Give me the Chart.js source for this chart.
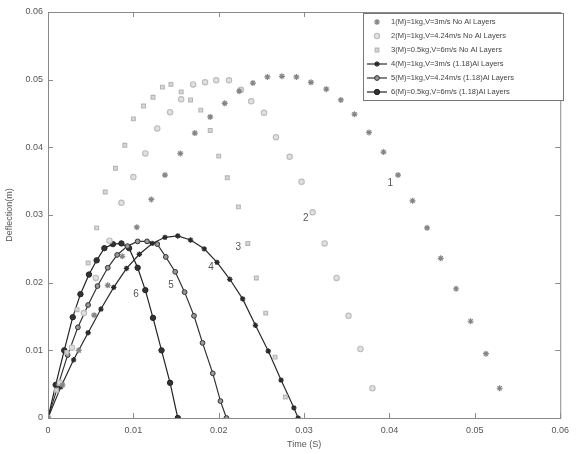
<!DOCTYPE html>
<html>
<head>
<meta charset="utf-8">
<script src="https://cdn.jsdelivr.net/npm/chart.js@4"></script>
<style>
  html, body { margin: 0; padding: 0; background: #fff; }
  #wrap { width: 576px; height: 454px; }
</style>
</head>
<body>
<div id="wrap"><canvas id="chart" width="576" height="454"></canvas></div>
<script>
// series labels (legend)
const seriesNames = [
    '1(M)=1kg,V=3m/s No Al Layers',
    '2(M)=1kg,V=4.24m/s No Al Layers',
    '3(M)=0.5kg,V=6m/s No Al Layers',
    '4(M)=1kg,V=3m/s (1.18)Al Layers',
    '5(M)=1kg,V=4.24m/s (1.18)Al Layers',
    '6(M)=0.5kg,V=6m/s (1.18)Al Layers'
];

// 1 - no Al layers
const time1 = [0, 0.0017, 0.0036, 0.0054, 0.0070, 0.0087, 0.0104, 0.0121, 0.0137, 0.0155, 0.0172, 0.0190, 0.0207, 0.0224, 0.0240, 0.0257, 0.0274, 0.0291, 0.0308, 0.0326, 0.0343, 0.0359, 0.0376, 0.0393, 0.0410, 0.0427, 0.0444, 0.0460, 0.0478, 0.0495, 0.0513, 0.0529];
const defl1 = [0, 0.0049, 0.0100, 0.0152, 0.0196, 0.0239, 0.0282, 0.0323, 0.0359, 0.0391, 0.0421, 0.0445, 0.0465, 0.0483, 0.0495, 0.0504, 0.0505, 0.0504, 0.0496, 0.0486, 0.0470, 0.0449, 0.0422, 0.0393, 0.0359, 0.0321, 0.0281, 0.0236, 0.0191, 0.0143, 0.0095, 0.0044];

// 2 - no Al layers
const time2 = [0, 0.0014, 0.0028, 0.0042, 0.0056, 0.0072, 0.0086, 0.0100, 0.0114, 0.0128, 0.0143, 0.0156, 0.0170, 0.0184, 0.0197, 0.0212, 0.0226, 0.0238, 0.0253, 0.0267, 0.0283, 0.0297, 0.0310, 0.0324, 0.0338, 0.0352, 0.0366, 0.0380];
const defl2 = [0, 0.0052, 0.0104, 0.0155, 0.0207, 0.0262, 0.0318, 0.0356, 0.0391, 0.0428, 0.0452, 0.0471, 0.0493, 0.0496, 0.0499, 0.0499, 0.0485, 0.0468, 0.0451, 0.0415, 0.0386, 0.0349, 0.0304, 0.0258, 0.0207, 0.0151, 0.0102, 0.0044];

// 3 - no Al layers
const time3 = [0, 0.0010, 0.0022, 0.0034, 0.0047, 0.0057, 0.0067, 0.0079, 0.0090, 0.0100, 0.0112, 0.0123, 0.0134, 0.0144, 0.0156, 0.0167, 0.0179, 0.0190, 0.0200, 0.0210, 0.0223, 0.0234, 0.0244, 0.0255, 0.0266, 0.0278];
const defl3 = [0, 0.0041, 0.0097, 0.0160, 0.0229, 0.0281, 0.0334, 0.0369, 0.0403, 0.0442, 0.0461, 0.0474, 0.0489, 0.0493, 0.0482, 0.0470, 0.0455, 0.0425, 0.0387, 0.0355, 0.0312, 0.0258, 0.0207, 0.0155, 0.0090, 0.0031];

// 4 - with Al layers
const time4 = [0, 0.0015, 0.0030, 0.0047, 0.0062, 0.0077, 0.0092, 0.0107, 0.0122, 0.0137, 0.0152, 0.0167, 0.0183, 0.0198, 0.0213, 0.0228, 0.0243, 0.0258, 0.0273, 0.0288, 0.0293];
const defl4 = [0, 0.0046, 0.0086, 0.0126, 0.0161, 0.0193, 0.0221, 0.0242, 0.0258, 0.0267, 0.0269, 0.0263, 0.0250, 0.0230, 0.0205, 0.0176, 0.0137, 0.0099, 0.0056, 0.0015, 0];

// 5 - with Al layers
const time5 = [0, 0.0012, 0.0023, 0.0035, 0.0047, 0.0058, 0.0070, 0.0081, 0.0093, 0.0105, 0.0116, 0.0128, 0.0138, 0.0149, 0.0160, 0.0171, 0.0181, 0.0193, 0.0202, 0.0209];
const defl5 = [0, 0.0049, 0.0093, 0.0134, 0.0167, 0.0195, 0.0222, 0.0241, 0.0254, 0.0261, 0.0261, 0.0257, 0.0238, 0.0216, 0.0186, 0.0151, 0.0111, 0.0066, 0.0025, 0];

// 6 - with Al layers
const time6 = [0, 0.0009, 0.0019, 0.0029, 0.0038, 0.0048, 0.0057, 0.0066, 0.0076, 0.0086, 0.0095, 0.0105, 0.0114, 0.0123, 0.0133, 0.0143, 0.0152];
const defl6 = [0, 0.0049, 0.0100, 0.0149, 0.0183, 0.0212, 0.0233, 0.0251, 0.0257, 0.0258, 0.0251, 0.0222, 0.0189, 0.0148, 0.0100, 0.0052, 0];

// axis ticks
const xTicks = [0, 0.01, 0.02, 0.03, 0.04, 0.05, 0.06];
const yTicks = [0, 0.01, 0.02, 0.03, 0.04, 0.05, 0.06];

// curve number labels and where they sit (data units)
const curveTags = ['1', '2', '3', '4', '5', '6'];
const tagTime = [0.0401, 0.0302, 0.0223, 0.0191, 0.0144, 0.0103];
const tagDefl = [0.0347, 0.0295, 0.0253, 0.0223, 0.0196, 0.0183];

const FONT = '"Liberation Sans", Arial, sans-serif';

function pts(xs, ys) {
    return xs.map((x, i) => ({ x: x, y: ys[i] }));
}

const datasets = [
    { label: seriesNames[0], data: pts(time1, defl1), showLine: false, pointStyle: 'star', pointRadius: 3, borderColor: '#858585', backgroundColor: '#858585', pointBorderWidth: 1.2 },
    { label: seriesNames[1], data: pts(time2, defl2), showLine: false, pointStyle: 'circle', pointRadius: 2.7, borderColor: '#bcbcbc', backgroundColor: '#e0e0e0', pointBorderWidth: 1.1 },
    { label: seriesNames[2], data: pts(time3, defl3), showLine: false, pointStyle: 'rect', pointRadius: 2.7, borderColor: '#b5b5b5', backgroundColor: '#d8d8d8', pointBorderWidth: 1.1 },
    { label: seriesNames[3], data: pts(time4, defl4), showLine: true, borderWidth: 1.2, pointStyle: 'star', pointRadius: 2.7, borderColor: '#2a2a2a', backgroundColor: '#2a2a2a', pointBorderWidth: 1.3 },
    { label: seriesNames[4], data: pts(time5, defl5), showLine: true, borderWidth: 1.2, pointStyle: 'circle', pointRadius: 2.4, borderColor: '#333', backgroundColor: '#999', pointBorderWidth: 1 },
    { label: seriesNames[5], data: pts(time6, defl6), showLine: true, borderWidth: 1.2, pointStyle: 'circle', pointRadius: 2.7, borderColor: '#222', backgroundColor: '#333', pointBorderWidth: 1 }
];

// matlab-like box with inward ticks, curve numbers and legend
const boxPlugin = {
    id: 'box',
    afterDraw(chart) {
        const { ctx, chartArea: a, scales } = chart;
        ctx.save();
        ctx.strokeStyle = '#8a8a8a';
        ctx.lineWidth = 1;
        ctx.strokeRect(a.left + 0.5, a.top + 0.5, a.right - a.left, a.bottom - a.top);
        ctx.beginPath();
        xTicks.forEach(v => {
            const px = Math.round(scales.x.getPixelForValue(v)) + 0.5;
            ctx.moveTo(px, a.bottom); ctx.lineTo(px, a.bottom - 5);
            ctx.moveTo(px, a.top); ctx.lineTo(px, a.top + 5);
        });
        yTicks.forEach(v => {
            const py = Math.round(scales.y.getPixelForValue(v)) + 0.5;
            ctx.moveTo(a.left, py); ctx.lineTo(a.left + 5, py);
            ctx.moveTo(a.right, py); ctx.lineTo(a.right - 5, py);
        });
        ctx.stroke();

        // curve numbers
        ctx.fillStyle = '#555';
        ctx.font = '10px ' + FONT;
        ctx.textAlign = 'center';
        ctx.textBaseline = 'middle';
        curveTags.forEach((t, i) => {
            ctx.fillText(t, scales.x.getPixelForValue(tagTime[i]), scales.y.getPixelForValue(tagDefl[i]));
        });

        // legend box
        const lx = 363, ly = 13, lw = 200, lh = 87;
        ctx.fillStyle = '#fff';
        ctx.fillRect(lx, ly, lw, lh);
        ctx.strokeStyle = '#777';
        ctx.lineWidth = 1;
        ctx.strokeRect(lx + 0.5, ly + 0.5, lw, lh);
        ctx.font = '7.5px ' + FONT;
        ctx.textAlign = 'left';
        chart.data.datasets.forEach((ds, i) => {
            const y = ly + 9 + i * 14;
            const mx = lx + 14;
            if (ds.showLine) {
                ctx.strokeStyle = ds.borderColor;
                ctx.lineWidth = 1.2;
                ctx.beginPath();
                ctx.moveTo(lx + 4, y); ctx.lineTo(lx + 24, y);
                ctx.stroke();
            }
            ctx.fillStyle = ds.backgroundColor;
            ctx.strokeStyle = ds.borderColor;
            ctx.lineWidth = ds.pointBorderWidth;
            Chart.helpers.drawPoint(ctx, { pointStyle: ds.pointStyle, radius: ds.pointRadius, borderWidth: ds.pointBorderWidth, rotation: 0 }, mx, y);
            ctx.fillStyle = '#444';
            ctx.fillText(ds.label, lx + 28, y);
        });
        ctx.restore();
    }
};

new Chart(document.getElementById('chart'), {
    type: 'scatter',
    data: { datasets: datasets },
    options: {
        responsive: false,
        animation: false,
        layout: { padding: { top: 12, right: 12, left: 0, bottom: 0 } },
        plugins: {
            legend: { display: false },
            tooltip: { enabled: false }
        },
        scales: {
            x: {
                type: 'linear',
                min: 0, max: 0.06,
                afterBuildTicks: s => { s.ticks = xTicks.map(v => ({ value: v })); },
                afterFit: s => { s.height = 36; },
                grid: { display: false, drawTicks: false },
                border: { display: false },
                ticks: {
                    padding: 7,
                    color: '#555',
                    font: { size: 9, family: FONT },
                    callback: v => v === 0 ? '0' : v.toFixed(2)
                },
                title: { display: true, text: 'Time (S)', color: '#555', font: { size: 9, family: FONT }, padding: { top: 1 } }
            },
            y: {
                type: 'linear',
                min: 0, max: 0.06,
                afterBuildTicks: s => { s.ticks = yTicks.map(v => ({ value: v })); },
                afterFit: s => { s.width = 48; },
                grid: { display: false, drawTicks: false },
                border: { display: false },
                ticks: {
                    padding: 5,
                    color: '#555',
                    font: { size: 9, family: FONT },
                    callback: v => v === 0 ? '0' : v.toFixed(2)
                },
                title: { display: true, text: 'Deflection(m)', color: '#555', font: { size: 9, family: FONT }, padding: { bottom: 2 } }
            }
        }
    },
    plugins: [boxPlugin]
});
</script>
</body>
</html>
